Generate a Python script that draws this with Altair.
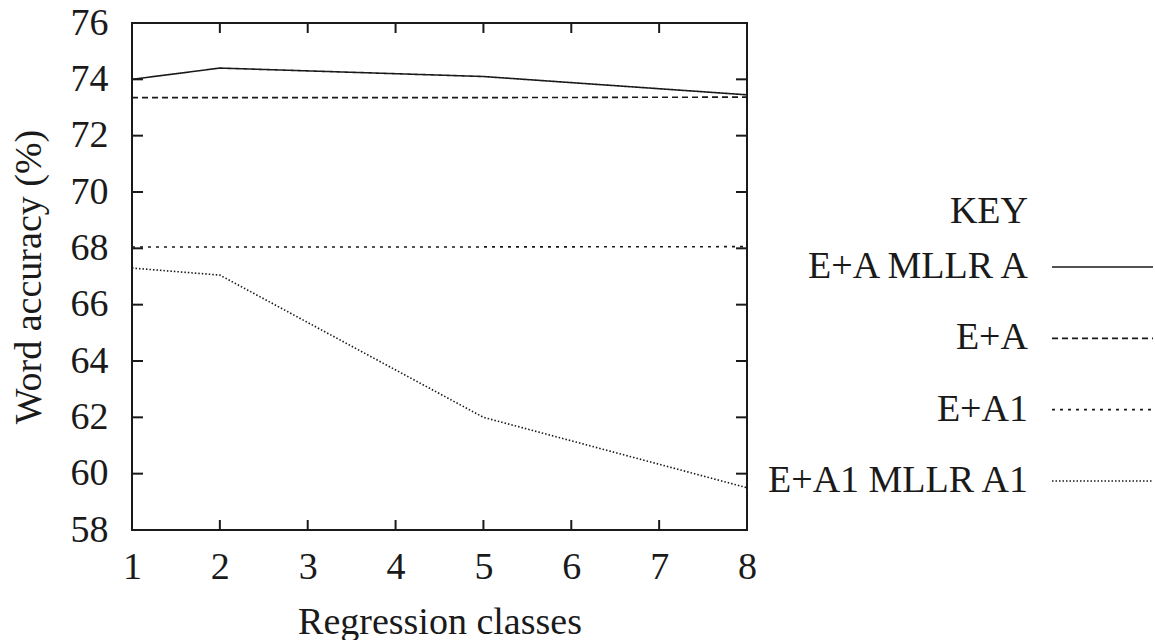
import altair as alt
import pandas as pd

# ---- data ----
classes = [1, 2, 5, 8]
series_names = ["E+A MLLR A", "E+A", "E+A1", "E+A1 MLLR A1"]
mllr_a = [74.0, 74.4, 74.1, 73.45]
ea = [73.35, 73.35, 73.35, 73.37]
ea1 = [68.05, 68.05, 68.05, 68.06]
mllr_a1 = [67.3, 67.05, 62.0, 59.5]

x_ticks = [1, 2, 3, 4, 5, 6, 7, 8]
y_ticks = [58, 60, 62, 64, 66, 68, 70, 72, 74, 76]

dashes = [[1, 0], [6, 4], [3, 5], [1.5, 2]]
widths = [1.6, 1.6, 1.6, 1.3]

FONT = "'Liberation Serif', 'Times New Roman', Times, 'DejaVu Serif', serif"
FS = 38
INK = "#1a1a1a"

W, H = 615, 507

rows = []
for name, vals in zip(series_names, [mllr_a, ea, ea1, mllr_a1]):
    for c, v in zip(classes, vals):
        rows.append({"classes": c, "accuracy": v, "series": name})
df = pd.DataFrame(rows)

dash_scale = alt.Scale(domain=series_names, range=dashes)
width_scale = alt.Scale(domain=series_names, range=widths)
xs = alt.Scale(domain=[1, 8], nice=False, zero=False)
ys = alt.Scale(domain=[58, 76], nice=False, zero=False)

x_axis = alt.Axis(values=x_ticks, ticks=False, domain=False, grid=False,
                  labelPadding=18, titlePadding=17, labelFlush=False,
                  labelOverlap=False, title="Regression classes")
y_axis = alt.Axis(values=y_ticks, ticks=False, domain=False, grid=False,
                  labelPadding=24, titlePadding=22, labelFlush=False,
                  labelOverlap=False, title="Word accuracy (%)")

lines = alt.Chart(df).mark_line(color=INK).encode(
    x=alt.X("classes:Q", scale=xs, axis=x_axis),
    y=alt.Y("accuracy:Q", scale=ys, axis=y_axis),
    strokeDash=alt.StrokeDash("series:N", scale=dash_scale, legend=None),
    strokeWidth=alt.StrokeWidth("series:N", scale=width_scale, legend=None),
    detail="series:N",
)

xt = pd.DataFrame({"v": x_ticks})
yt = pd.DataFrame({"v": y_ticks})
TL = 10
tick_style = dict(color=INK, strokeWidth=2)

ticks_bottom = alt.Chart(xt).mark_rule(**tick_style).encode(
    x=alt.X("v:Q", scale=xs, axis=x_axis), y=alt.value(H), y2=alt.value(H - TL))
ticks_top = alt.Chart(xt).mark_rule(**tick_style).encode(
    x=alt.X("v:Q", scale=xs, axis=x_axis), y=alt.value(0), y2=alt.value(TL))
ticks_left = alt.Chart(yt).mark_rule(**tick_style).encode(
    y=alt.Y("v:Q", scale=ys, axis=None), x=alt.value(0), x2=alt.value(TL + 1))
ticks_right = alt.Chart(yt).mark_rule(**tick_style).encode(
    y=alt.Y("v:Q", scale=ys, axis=None), x=alt.value(W - TL - 1), x2=alt.value(W))

# ---- legend ("KEY") drawn to the right of the plot ----
leg = pd.DataFrame({"series": series_names, "rank": list(range(len(series_names)))})
leg_y = alt.Y("rank:Q", scale=alt.Scale(domain=[0, 3], range=[244, 458], nice=False, zero=False), axis=None)

leg_text = alt.Chart(leg).mark_text(align="right", baseline="middle", font=FONT,
                                    fontSize=FS, color=INK).encode(
    x=alt.value(896), y=leg_y, text="series:N")
leg_lines = alt.Chart(leg).mark_rule(color=INK).encode(
    x=alt.value(920), x2=alt.value(1021), y=leg_y,
    strokeDash=alt.StrokeDash("series:N", scale=dash_scale, legend=None),
    strokeWidth=alt.StrokeWidth("series:N", scale=width_scale, legend=None),
)
key_title = alt.Chart(pd.DataFrame({"t": ["KEY"]})).mark_text(
    align="right", baseline="middle", font=FONT, fontSize=FS, color=INK).encode(
    x=alt.value(896), y=alt.value(189), text="t:N")

chart = alt.layer(
    lines, ticks_bottom, ticks_top, ticks_left, ticks_right,
    leg_lines, leg_text, key_title,
).resolve_scale(y="independent").properties(
    width=W, height=H,
    autosize=alt.AutoSizeParams(type="none"),
    padding={"left": 132, "top": 23, "right": 408, "bottom": 110},
    background="white",
).configure_view(
    stroke=INK, strokeWidth=2,
).configure_axis(
    labelFont=FONT, titleFont=FONT, labelFontSize=FS, titleFontSize=FS,
    labelColor=INK, titleColor=INK, titleFontWeight="normal",
)

chart.save("out.html", embed_options={"renderer": "svg", "actions": False})
